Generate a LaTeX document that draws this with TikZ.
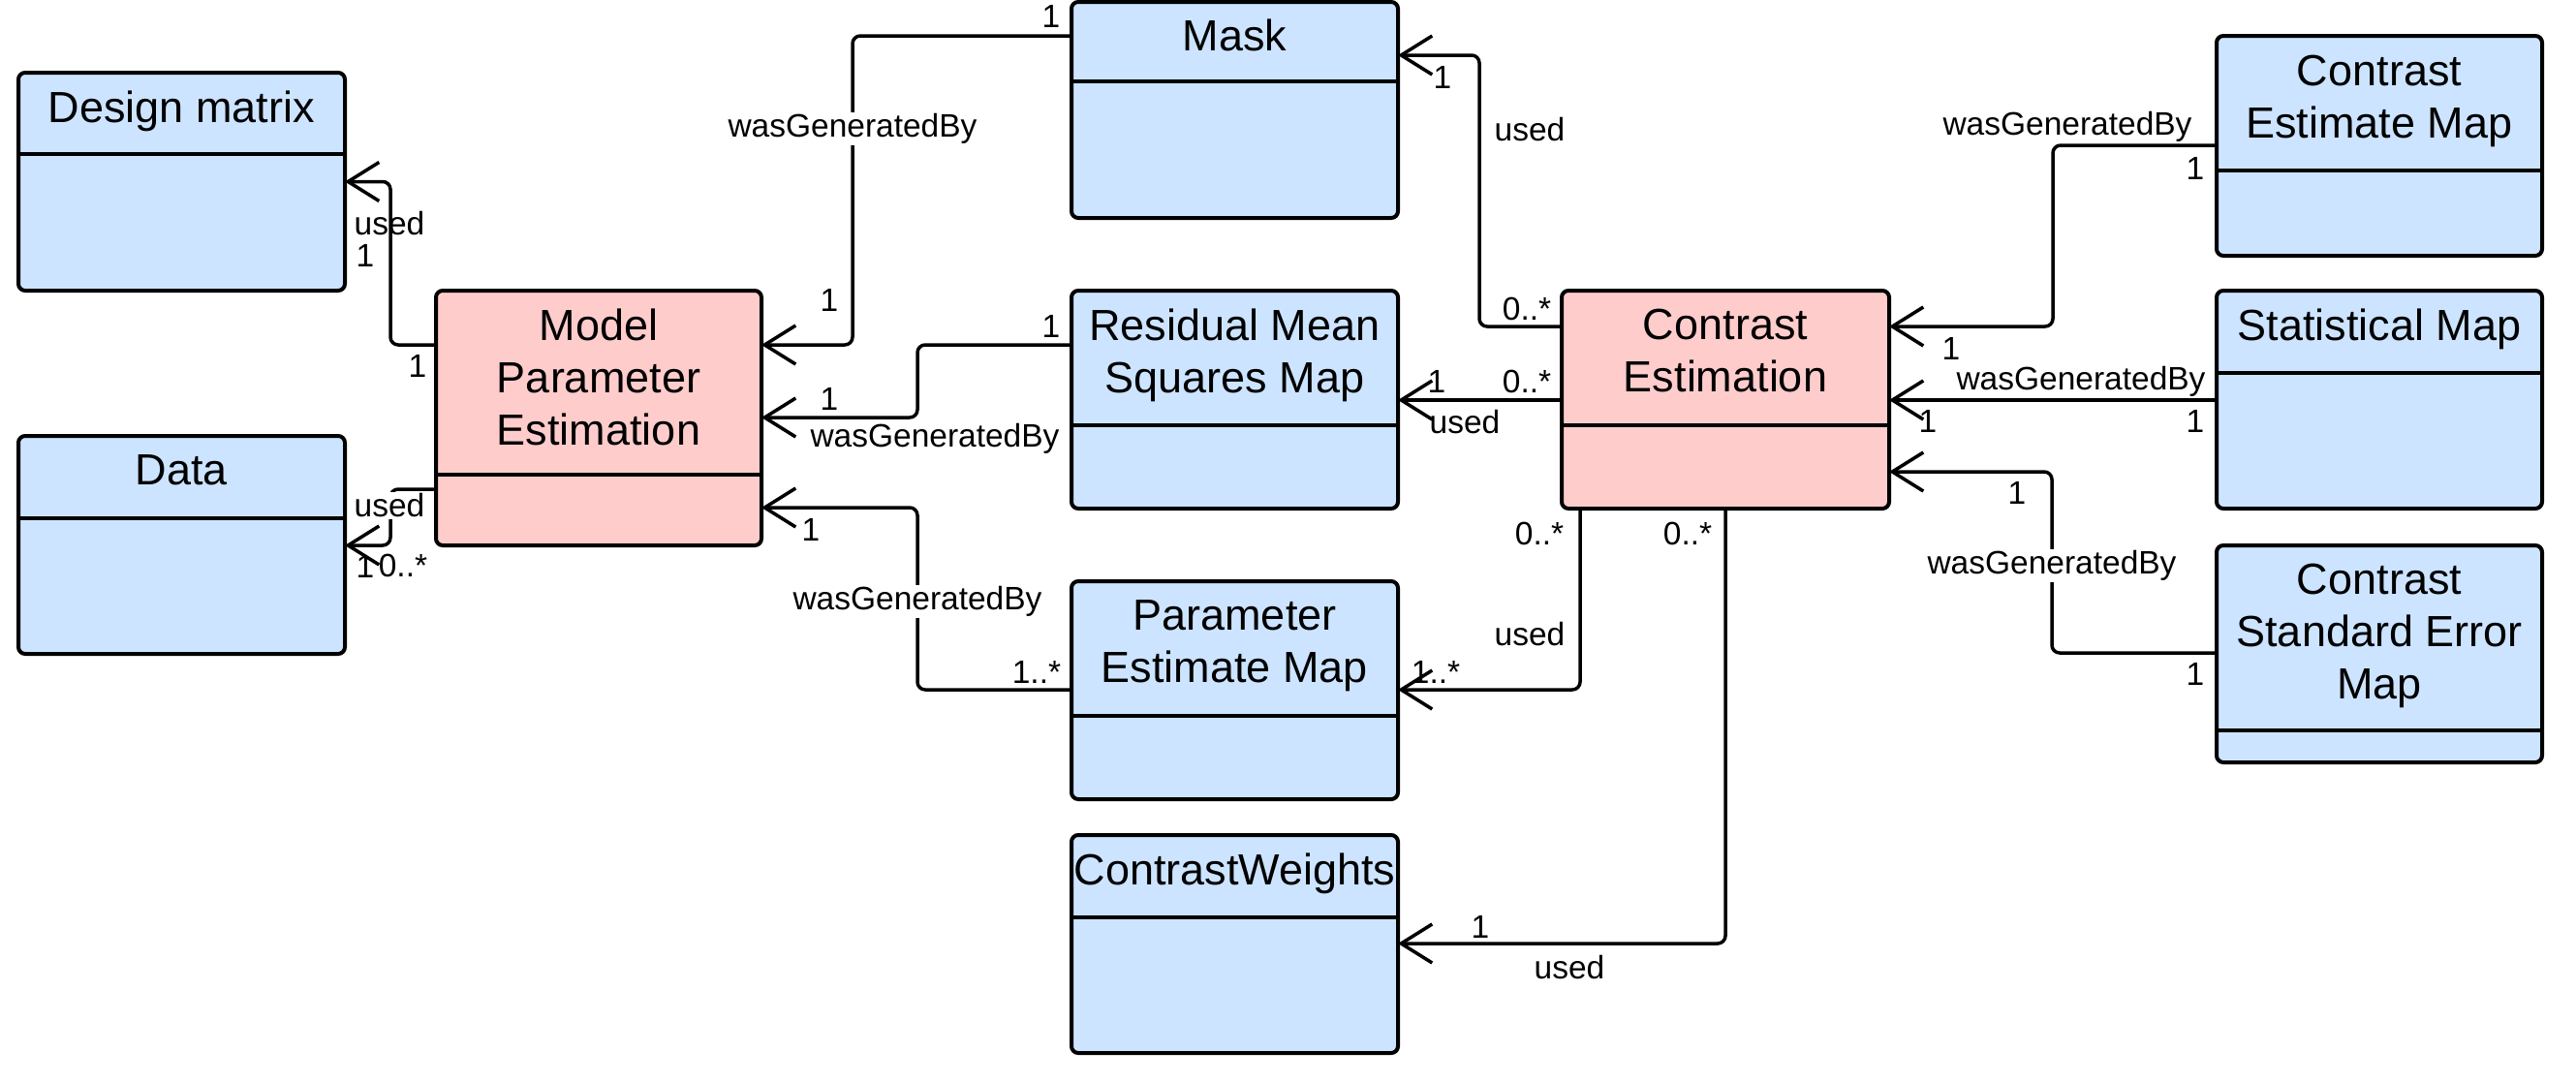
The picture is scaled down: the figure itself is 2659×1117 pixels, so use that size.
\documentclass[tikz,border=0pt]{standalone}
\usepackage{fontspec}
\setmainfont{Liberation Sans}
\usetikzlibrary{arrows.meta}
\definecolor{cblue}{RGB}{204,228,255}
\definecolor{cpink}{RGB}{255,204,204}
\tikzset{
  cls/.style={draw, line width=4pt, rounded corners=7pt, inner sep=0pt, outer sep=0pt, anchor=north west},
  bluebox/.style={cls, fill=cblue},
  pinkbox/.style={cls, fill=cpink},
  ttl/.style={font=\fontsize{45}{54}\selectfont, align=center, inner sep=0pt, anchor=north},
  lab/.style={font=\fontsize{33.5}{40}\selectfont, inner sep=0pt},
  wlab/.style={lab, fill=white, inner sep=1.5pt},
  divl/.style={line width=4pt},
  conn/.style={line width=3.5pt, rounded corners=8pt, -{Straight Barb[length=32pt,width=40pt]}},
}
\begin{document}
\begin{tikzpicture}[x=1pt,y=-1pt]
\useasboundingbox (0,0) rectangle (2659,1117);

% boxes
\node[bluebox, minimum width=337pt, minimum height=225pt] (dm) at (19,75) {};
\node[bluebox, minimum width=337pt, minimum height=225pt] (data) at (19,450) {};
\node[pinkbox, minimum width=336pt, minimum height=263pt] (mpe) at (450,300) {};
\node[bluebox, minimum width=337pt, minimum height=223pt] (mask) at (1106,2) {};
\node[bluebox, minimum width=337pt, minimum height=225pt] (rmsm) at (1106,300) {};
\node[bluebox, minimum width=337pt, minimum height=225pt] (pem) at (1106,600) {};
\node[bluebox, minimum width=337pt, minimum height=225pt] (cw) at (1106,862) {};
\node[pinkbox, minimum width=338pt, minimum height=225pt] (ce) at (1612,300) {};
\node[bluebox, minimum width=336pt, minimum height=227pt] (cem) at (2288,37) {};
\node[bluebox, minimum width=336pt, minimum height=225pt] (sm) at (2288,300) {};
\node[bluebox, minimum width=336pt, minimum height=224pt] (csem) at (2288,563) {};

% dividers
\draw[divl] (dm.west |- 0,159) -- (dm.east |- 0,159);
\draw[divl] (data.west |- 0,535) -- (data.east |- 0,535);
\draw[divl] (mpe.west |- 0,490) -- (mpe.east |- 0,490);
\draw[divl] (mask.west |- 0,84) -- (mask.east |- 0,84);
\draw[divl] (rmsm.west |- 0,439) -- (rmsm.east |- 0,439);
\draw[divl] (pem.west |- 0,739) -- (pem.east |- 0,739);
\draw[divl] (cw.west |- 0,947) -- (cw.east |- 0,947);
\draw[divl] (ce.west |- 0,439) -- (ce.east |- 0,439);
\draw[divl] (cem.west |- 0,176) -- (cem.east |- 0,176);
\draw[divl] (sm.west |- 0,385) -- (sm.east |- 0,385);
\draw[divl] (csem.west |- 0,754) -- (csem.east |- 0,754);

% titles
\node[ttl] (dmT) at (dm.north |- 0,94) {Design matrix};
\node[ttl] (dataT) at (data.north |- 0,469) {Data};
\node[ttl] (mpeT) at (mpe.north |- 0,319) {Model\\Parameter\\Estimation};
\node[ttl] (maskT) at (mask.north |- 0,20) {Mask};
\node[ttl] (rmsmT) at (rmsm.north |- 0,319) {Residual Mean\\Squares Map};
\node[ttl] (pemT) at (pem.north |- 0,619) {Parameter\\Estimate Map};
\node[ttl] (cwT) at (cw.north |- 0,881) {ContrastWeights};
\node[ttl] (ceT) at (ce.north |- 0,319) {Contrast\\Estimation};
\node[ttl] (cemT) at (cem.north |- 0,57) {Contrast\\Estimate Map};
\node[ttl] (smT) at (sm.north |- 0,319) {Statistical Map};
\node[ttl] (csemT) at (csem.north |- 0,582) {Contrast\\Standard Error\\Map};

% connectors
\draw[conn] (mpe.west |- 0,356) -| (403,187.5) -- (dm.east |- 0,187.5);
\draw[conn] (mpe.west |- 0,505) -| (403,563) -- (data.east |- 0,563);
\draw[conn] (mask.west |- 0,37) -| (880,356) -- (mpe.east |- 0,356);
\draw[conn] (rmsm.west |- 0,356) -| (947,431) -- (mpe.east |- 0,431);
\draw[conn] (pem.west |- 0,712) -| (947,524) -- (mpe.east |- 0,524);
\draw[conn] (ce.west |- 0,337) -| (1527,57) -- (mask.east |- 0,57);
\draw[conn] (ce.west |- 0,413) -- (rmsm.east |- 0,413);
\draw[conn] (ce.south -| 1631,0) |- (pem.east |- 0,712);
\draw[conn] (ce.south -| 1781,0) |- (cw.east |- 0,974);
\draw[conn] (cem.west |- 0,150) -| (2119,337) -- (ce.east |- 0,337);
\draw[conn] (sm.west |- 0,413) -- (ce.east |- 0,413);
\draw[conn] (csem.west |- 0,674) -| (2118,487) -- (ce.east |- 0,487);

% labels
\node[lab] (l1) at (402,231) {used};
\node[lab] (l2) at (377,264) {1};
\node[lab] (l3) at (431,378) {1};
\node[wlab] (l4) at (402,522) {used};
\node[lab] (l5) at (377,585) {1};
\node[lab] (l6) at (416,584) {0..*};
\node[lab] (l7) at (1085,17) {1};
\node[wlab] (l8) at (880,133) {wasGeneratedBy};
\node[lab] (l9) at (856,310) {1};
\node[lab] (l10) at (1085,337) {1};
\node[lab] (l11) at (856,412) {1};
\node[lab] (l12) at (965,453) {wasGeneratedBy};
\node[lab] (l13) at (837,547) {1};
\node[wlab] (l14) at (947,621) {wasGeneratedBy};
\node[lab] (l15) at (1070,694) {1..*};
\node[lab] (l16) at (1489,80) {1};
\node[lab] (l17) at (1579,134) {used};
\node[lab] (l18) at (1576,319) {0..*};
\node[lab] (l19) at (1483,394) {1};
\node[lab] (l20) at (1576,394) {0..*};
\node[lab] (l21) at (1512,436) {used};
\node[lab] (l22) at (1589,551) {0..*};
\node[lab] (l23) at (1579,655) {used};
\node[lab] (l24) at (1482,694) {1..*};
\node[lab] (l25) at (1742,551) {0..*};
\node[lab] (l26) at (1528,957) {1};
\node[lab] (l27) at (1620,999) {used};
\node[lab] (l28) at (2134,131) {wasGeneratedBy};
\node[lab] (l29) at (2266,174) {1};
\node[lab] (l30) at (2014,360) {1};
\node[lab] (l31) at (2148,394) {wasGeneratedBy};
\node[lab] (l32) at (1990,435) {1};
\node[lab] (l33) at (2266,435) {1};
\node[lab] (l34) at (2082,509) {1};
\node[wlab] (l35) at (2118,584) {wasGeneratedBy};
\node[lab] (l36) at (2266,696) {1};
\end{tikzpicture}
\end{document}
